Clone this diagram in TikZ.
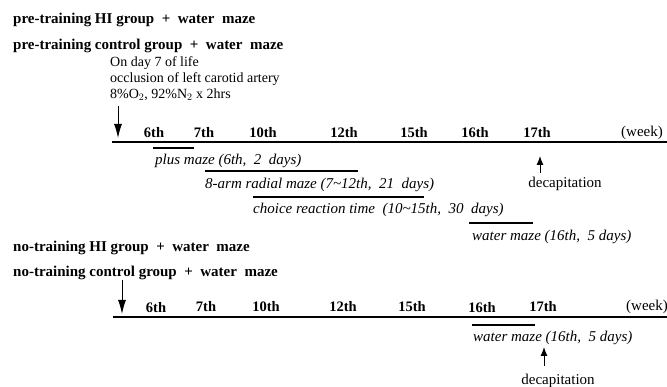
\documentclass[tikz,border=0pt]{standalone}
\usepackage{fontspec}
\setmainfont{Liberation Serif}
\usetikzlibrary{arrows.meta}
\begin{document}
\begin{tikzpicture}[x=1pt,y=-1pt,
  hdr/.style={anchor=west,font=\fontsize{15}{16}\selectfont\bfseries,inner sep=0pt},
  tick/.style={font=\fontsize{14.5}{15}\selectfont\bfseries,inner sep=0pt},
  wk/.style={font=\fontsize{15}{16}\selectfont,inner sep=0pt},
  note/.style={anchor=west,font=\fontsize{14}{15}\selectfont,inner sep=0pt},
  lbl/.style={anchor=west,font=\fontsize{15}{16}\selectfont\itshape,inner sep=0pt},
  axis/.style={line width=1.8pt},
  bar/.style={line width=1.8pt},
  arr/.style={line width=1pt,-{Latex[length=14pt,width=8pt]}},
  sarr/.style={line width=1pt,-{Latex[length=9pt,width=7pt]}}]
\useasboundingbox (0,0) rectangle (667,387);
% headers
\node[hdr] (h1) at (13,20) {pre-training HI group\ \ +\ \ water\ \ maze};
\node[hdr] (h2) at (13,46) {pre-training control group\ \ +\ \ water\ \ maze};
\node[note] (n1) at (110,63) {On day 7 of life};
\node[note] (n2) at (110,79) {occlusion of left carotid artery};
\node[note] (n3) at (110,95) {8\%O$_2$, 92\%N$_2$ x 2hrs};
% timeline 1
\coordinate (a1s) at (112,142);
\coordinate (a1e) at (667,142);
\draw[axis] (a1s) -- (a1e);
\coordinate (ar1s) at (118,106);
\coordinate (ar1e) at (118,138);
\draw[arr] (ar1s) -- (ar1e);
\node[tick] (t6) at (154,133) {6th};
\node[tick] (t7) at (204,133) {7th};
\node[tick] (t10) at (263,133) {10th};
\node[tick] (t12) at (344,133) {12th};
\node[tick] (t15) at (414,133) {15th};
\node[tick] (t16) at (475,133) {16th};
\node[tick] (t17) at (537,133) {17th};
\node[wk] (w1) at (642,133) {(week)};
% bars
\coordinate (b1s) at (153,148); \coordinate (b1e) at (194,148);
\draw[bar] (b1s) -- (b1e);
\node[lbl] (l1) at (155,161) {plus maze (6th,\ \ 2\ \ days)};
\coordinate (b2s) at (205,171); \coordinate (b2e) at (358,171);
\draw[bar] (b2s) -- (b2e);
\node[lbl] (l2) at (205,185) {8-arm radial maze (7\textasciitilde12th,\ \ 21\ \ days)};
\coordinate (b3s) at (253,197); \coordinate (b3e) at (424,197);
\draw[bar] (b3s) -- (b3e);
\node[lbl] (l3) at (253,210) {choice reaction time\ \ (10\textasciitilde15th,\ \ 30\ \ days)};
\coordinate (b4s) at (469,223); \coordinate (b4e) at (533,223);
\draw[bar] (b4s) -- (b4e);
\node[lbl] (l4) at (472,237) {water maze (16th,\ \ 5 days)};
\node[wk] (d1) at (565,184) {decapitation};
\coordinate (dc1) at (540,173);
\coordinate (dt1) at (540,156);
\draw[sarr] (dc1) -- (dt1);
% second block
\node[hdr] (h3) at (13,248) {no-training HI group\ \ +\ \ water\ \ maze};
\node[hdr] (h4) at (13,273) {no-training control group\ \ +\ \ water\ \ maze};
\coordinate (a2s) at (113,317);
\coordinate (a2e) at (667,317);
\draw[axis] (a2s) -- (a2e);
\coordinate (ar2s) at (122,280);
\coordinate (ar2e) at (122,314);
\draw[arr] (ar2s) -- (ar2e);
\node[tick] (u6) at (156,308) {6th};
\node[tick] (u7) at (206,307) {7th};
\node[tick] (u10) at (266,307) {10th};
\node[tick] (u12) at (343,307) {12th};
\node[tick] (u15) at (412,307) {15th};
\node[tick] (u16) at (482,308) {16th};
\node[tick] (u17) at (543,307) {17th};
\node[wk] (w2) at (647,307) {(week)};
\coordinate (c1s) at (472,325); \coordinate (c1e) at (535,325);
\draw[bar] (c1s) -- (c1e);
\node[lbl] (l5) at (473,338) {water maze (16th,\ \ 5 days)};
\coordinate (dc2) at (544,366);
\coordinate (dt2) at (544,347);
\draw[sarr] (dc2) -- (dt2);
\node[wk] (d2) at (558,381) {decapitation};
\end{tikzpicture}
\end{document}
